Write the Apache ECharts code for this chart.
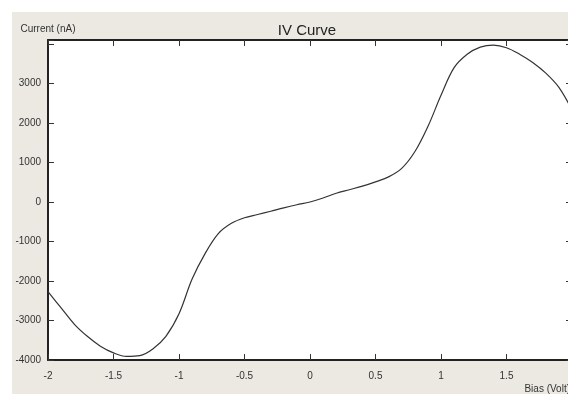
<!DOCTYPE html>
<html>
<head>
<meta charset="utf-8">
<script src="https://cdn.jsdelivr.net/npm/echarts@6/dist/echarts.min.js"></script>
<style>
  html, body { margin: 0; padding: 0; background: #fff; overflow: hidden; }
  #main { width: 580px; height: 394px; }
</style>
</head>
<body>
<div id="main"></div>
<script>
// bias (V)
const biasVals = [-2.0, -1.9, -1.8, -1.7, -1.6, -1.5, -1.4, -1.3, -1.2, -1.1, -1.0, -0.9, -0.8, -0.7, -0.6, -0.5, -0.4, -0.3, -0.2, -0.1,
  0.0, 0.1, 0.2, 0.3, 0.4, 0.5, 0.6, 0.7, 0.8, 0.9, 1.0, 1.1, 1.2, 1.3, 1.4, 1.5, 1.6, 1.7, 1.8, 1.9, 2.0];
// current (nA)
const currentVals = [-2270, -2680, -3090, -3400, -3650, -3820, -3910, -3890, -3720, -3400, -2830, -1950, -1300, -800, -540, -400, -318, -234, -148, -70,
  0, 100, 220, 310, 400, 510, 635, 850, 1270, 1910, 2700, 3400, 3740, 3920, 3970, 3905, 3740, 3530, 3260, 2900, 2330];

const seriesData = biasVals.map((b, i) => [b, currentVals[i]]);

const chart = echarts.init(document.getElementById('main'));

const lineStyle = { color: '#222', width: 2 };
const tickStyle = { show: true, inside: true, length: 6, lineStyle: { color: '#333', width: 1 } };
const labelFont = { color: '#333', fontSize: 10, fontFamily: 'Liberation Sans, Arial, sans-serif' };

const option = {
  backgroundColor: '#fff',
  animation: false,
  graphic: [
    {
      type: 'rect',
      z: -10,
      shape: { x: 12, y: 12, width: 600, height: 400 },
      style: { fill: '#ece9e3' }
    }
  ],
  title: {
    text: 'IV Curve',
    left: 302,
    top: 18,
    textAlign: 'center',
    textStyle: { color: '#222', fontSize: 15, fontWeight: 'normal', fontFamily: 'Liberation Sans, Arial, sans-serif' }
  },
  grid: {
    left: 48, right: 8, top: 40, bottom: 33,
    show: true,
    backgroundColor: '#fff',
    borderWidth: 0
  },
  xAxis: [
    {
      type: 'value',
      min: -2, max: 2, interval: 0.5,
      position: 'bottom',
      axisLine: { show: true, onZero: false, lineStyle: lineStyle },
      axisTick: tickStyle,
      splitLine: { show: false },
      axisLabel: Object.assign({ margin: 11 }, labelFont, {
        formatter: v => (v >= 2 ? '' : String(v))
      }),
      name: 'Bias (Volt)',
      nameLocation: 'end',
      nameGap: -2,
      nameTextStyle: Object.assign({}, labelFont, { align: 'right', verticalAlign: 'top', padding: [24, 0, 0, 0] })
    },
    {
      type: 'value',
      min: -2, max: 2, interval: 0.5,
      position: 'top',
      axisLine: { show: true, onZero: false, lineStyle: lineStyle },
      axisTick: tickStyle,
      splitLine: { show: false },
      axisLabel: { show: false }
    }
  ],
  yAxis: [
    {
      type: 'value',
      min: -4000, max: 4100, interval: 1000,
      position: 'left',
      axisLine: { show: true, onZero: false, lineStyle: lineStyle },
      axisTick: tickStyle,
      splitLine: { show: false },
      axisLabel: Object.assign({ margin: 7 }, labelFont, {
        formatter: v => (v >= 4000 ? '' : String(v))
      }),
      name: 'Current (nA)',
      nameLocation: 'end',
      nameGap: 6,
      nameTextStyle: Object.assign({}, labelFont, { align: 'center' })
    },
    {
      type: 'value',
      min: -4000, max: 4100, interval: 1000,
      position: 'right',
      axisLine: { show: true, onZero: false, lineStyle: lineStyle },
      axisTick: tickStyle,
      splitLine: { show: false },
      axisLabel: { show: false }
    }
  ],
  series: [
    {
      type: 'line',
      data: seriesData,
      smooth: 0.35,
      showSymbol: false,
      lineStyle: { color: '#333', width: 1.2 },
      clip: true
    }
  ]
};

chart.setOption(option);
</script>
</body>
</html>
